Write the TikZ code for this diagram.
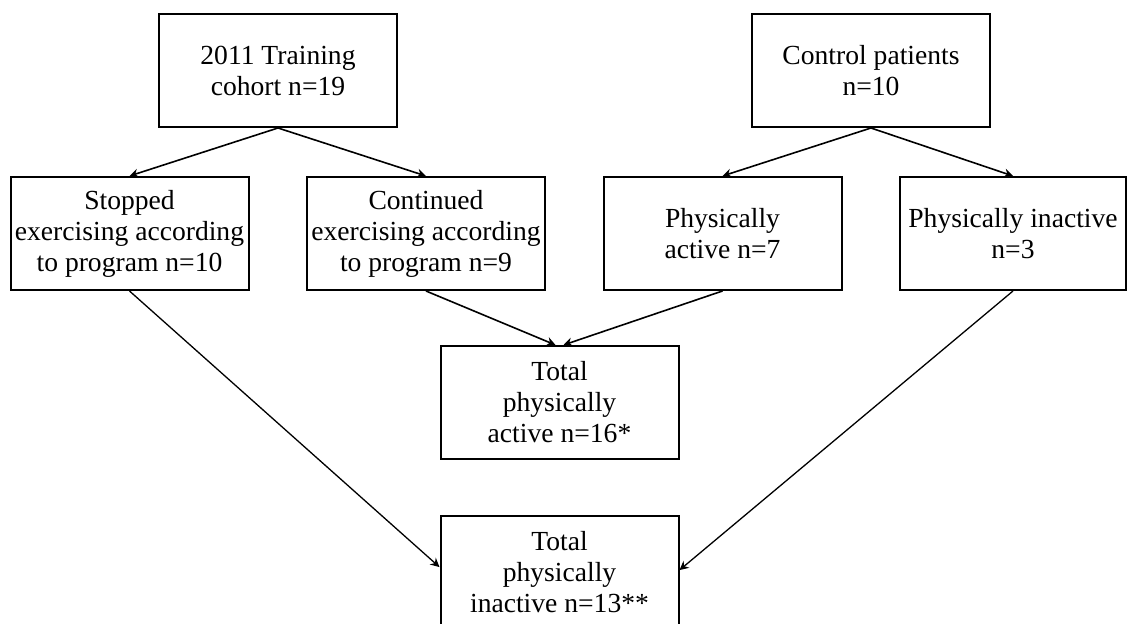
\documentclass[tikz,border=0pt]{standalone}
\usepackage{fontspec}
\setmainfont{Liberation Serif}
\usetikzlibrary{arrows.meta,positioning}

\begin{document}
\begin{tikzpicture}[x=0.5pt,y=-0.5pt,node distance=27.5pt and 28.25pt,every node/.style={font=\fontsize{13.8}{15.5}\selectfont,align=center},box/.style={draw,line width=1pt,minimum width=119pt,minimum height=56.5pt,inner sep=1pt},arr/.style={-{Stealth[length=4.5pt,width=4.5pt]},line width=0.8pt}]
\useasboundingbox (0,0) rectangle (1130,624);
\node[box] (train) at (278,70.5) {2011 Training\\cohort n=19};
\node[box] (control) at (871,70.5) {Control patients\\n=10};
\node[box] (stopped) at (129.5,233.5) {Stopped\\exercising according\\to program n=10};
\node[box,right=of stopped] (cont) {Continued\\exercising according\\to program n=9};
\node[box,right=of cont] (active) {Physically\\active n=7};
\node[box,minimum width=113pt,right=of active] (inactive) {Physically inactive\\n=3};
\node[box] (totact) at (559.5,402.5) {Total\\physically\\active n=16*};
\node[box,below=of totact] (totinact) {Total\\physically\\inactive n=13**};
\draw[arr] (train.south)--(stopped.north);
\draw[arr] (train.south)--(cont.north);
\draw[arr] (control.south)--(active.north);
\draw[arr] (control.south)--(inactive.north);
\draw[arr] (cont.south)--([xshift=-2pt]totact.north);
\draw[arr] (active.south)--([xshift=2pt]totact.north);
\draw[arr,line width=0.65pt] (stopped.south)--([yshift=2.7pt]totinact.west);
\draw[arr,line width=0.65pt] (inactive.south)--([yshift=1.2pt]totinact.east);
\end{tikzpicture}
\end{document}
